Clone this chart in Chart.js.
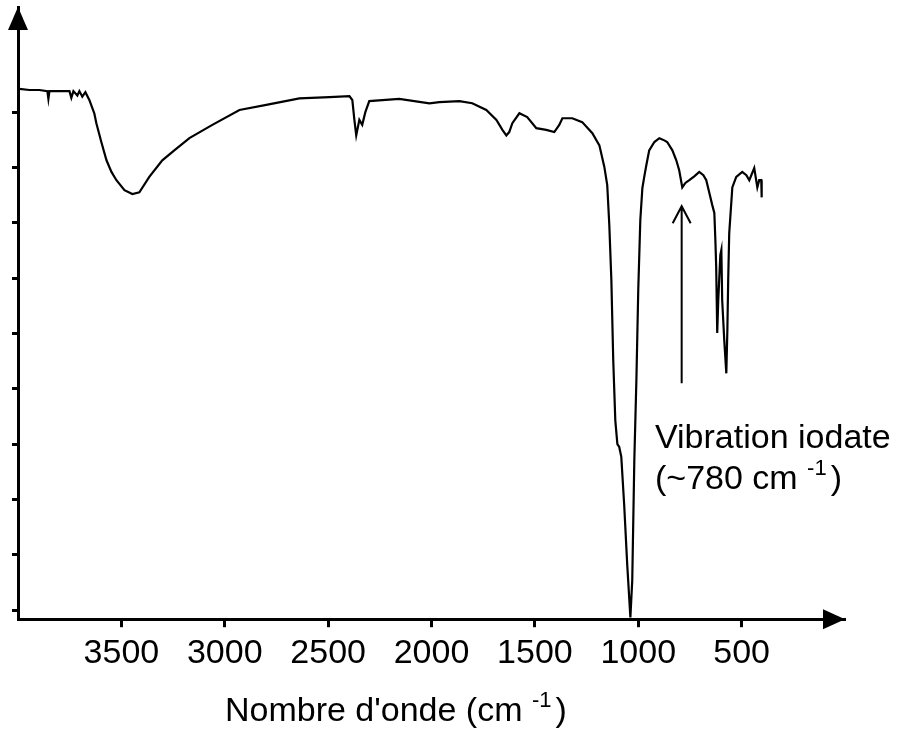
<!DOCTYPE html>
<html>
<head>
<meta charset="utf-8">
<script src="https://cdn.jsdelivr.net/npm/chart.js@4.4.1/dist/chart.umd.min.js"></script>
<style>
  html, body { margin: 0; padding: 0; background: #fff; }
  #wrap { width: 904px; height: 734px; }
</style>
</head>
<body>
<div id="wrap"><canvas id="irChart" width="904" height="734"></canvas></div>
<script>
// IR spectrum (wavenumber in cm-1, transmittance in arbitrary %)
const wavenumbers = [
  3993, 3945, 3897, 3858, 3853, 3848, 3800, 3751, 3742, 3732, 3713, 3703, 3689, 3674, 3655,
  3631, 3621, 3597, 3572, 3548, 3524, 3485, 3447, 3413, 3365, 3302, 3244, 3171, 3060, 2929,
  2799, 2639, 2494, 2397, 2383, 2373, 2364, 2349, 2335, 2320, 2301, 2156, 2010, 1962, 1865,
  1803, 1735, 1686, 1657, 1638, 1624, 1609, 1575, 1537, 1493, 1445, 1406, 1382, 1367, 1319,
  1271, 1222, 1188, 1164, 1150, 1140, 1130, 1121, 1111, 1101, 1092, 1082, 1068, 1053, 1038,
  1029, 1019, 1009, 1000, 990, 980, 971, 961, 947, 922, 898, 874, 860, 835, 816,
  802, 787, 772, 753, 729, 705, 685, 671, 656, 642, 632, 627, 623, 618, 613,
  603, 598, 594, 584, 574, 569, 565, 560, 545, 526, 497, 477, 463, 439, 424,
  415, 405, 403
];
const transmittance = [
  94.2, 94.0, 94.0, 93.8, 92.4, 93.8, 93.8, 93.8, 92.6, 93.8, 93.0, 93.8, 92.8, 93.6, 92.2,
  89.8, 88.0, 84.6, 81.3, 79.2, 77.7, 75.9, 75.2, 75.5, 78.3, 81.3, 83.1, 85.3, 87.7, 90.4,
  91.3, 92.5, 92.7, 92.9, 92.2, 88.6, 85.8, 88.6, 87.7, 90.0, 92.0, 92.4, 91.6, 91.8, 92.0,
  91.6, 90.4, 88.6, 86.8, 85.8, 86.4, 88.0, 89.8, 89.1, 87.1, 86.8, 86.4, 87.7, 88.9, 88.9,
  88.2, 86.2, 84.0, 80.1, 76.8, 69.6, 59.6, 45.2, 34.3, 30.0, 29.5, 27.7, 19.0, 8.0, -1.3,
  5.4, 27.1, 41.6, 57.8, 70.5, 76.3, 78.3, 80.4, 83.1, 84.6, 85.3, 84.9, 84.6, 83.1, 81.3,
  79.5, 76.4, 77.2, 77.7, 78.4, 79.2, 78.6, 77.7, 75.4, 73.2, 71.8, 66.9, 62.0, 50.1, 56.0,
  64.2, 65.1, 56.0, 48.8, 42.8, 50.6, 59.6, 68.1, 76.4, 78.3, 79.2, 78.6, 77.7, 79.9, 76.4,
  77.7, 77.7, 74.6
];

const xTickValues = [3500, 3000, 2500, 2000, 1500, 1000, 500];
const yTickValues = [0, 10, 20, 30, 40, 50, 60, 70, 80, 90];

const xTitle = ["Nombre d'onde (cm", '-1', ')'];
const noteLine1 = 'Vibration iodate';
const noteLine2 = ['(~780 cm', '-1', ')'];
const noteArrow = { x: 790, yFrom: 41, yTo: 73 };

const fontFamily = '"Liberation Sans", Arial, Helvetica, sans-serif';

// text with a raised exponent: [base, superscript, tail]
function drawSupText(ctx, parts, x, y, size) {
  ctx.font = size + 'px ' + fontFamily;
  ctx.fillText(parts[0], x, y);
  x += ctx.measureText(parts[0] + ' ').width;
  ctx.font = Math.round(size * 0.64) + 'px ' + fontFamily;
  ctx.fillText(parts[1], x, y - size * 0.4);
  x += ctx.measureText(parts[1]).width + 4;
  ctx.font = size + 'px ' + fontFamily;
  ctx.fillText(parts[2], x, y);
}

const extrasPlugin = {
  id: 'extras',
  afterDraw(chart) {
    const ctx = chart.ctx;
    const area = chart.chartArea;
    const xs = chart.scales.x;
    const ys = chart.scales.y;
    ctx.save();
    ctx.fillStyle = '#000';
    ctx.strokeStyle = '#000';

    // axis arrow heads
    ctx.beginPath();
    ctx.moveTo(area.left, area.top);
    ctx.lineTo(area.left - 10, area.top + 23);
    ctx.lineTo(area.left + 10, area.top + 23);
    ctx.closePath();
    ctx.fill();

    ctx.beginPath();
    ctx.moveTo(area.right, area.bottom);
    ctx.lineTo(area.right - 22, area.bottom - 10);
    ctx.lineTo(area.right - 22, area.bottom + 10);
    ctx.closePath();
    ctx.fill();

    // annotation arrow
    const ax = xs.getPixelForValue(noteArrow.x);
    const y0 = ys.getPixelForValue(noteArrow.yFrom);
    const y1 = ys.getPixelForValue(noteArrow.yTo);
    ctx.lineWidth = 2;
    ctx.beginPath();
    ctx.moveTo(ax, y0);
    ctx.lineTo(ax, y1);
    ctx.moveTo(ax - 9, y1 + 17);
    ctx.lineTo(ax, y1);
    ctx.lineTo(ax + 9, y1 + 17);
    ctx.stroke();

    ctx.textBaseline = 'alphabetic';
    ctx.textAlign = 'left';
    ctx.font = '34px ' + fontFamily;
    ctx.fillText(noteLine1, 655, 448);
    drawSupText(ctx, noteLine2, 655, 489, 34);

    drawSupText(ctx, xTitle, 225, 721, 34);
    ctx.restore();
  }
};

const points = wavenumbers.map((w, i) => ({ x: w, y: transmittance[i] }));

new Chart(document.getElementById('irChart'), {
  type: 'line',
  data: {
    datasets: [{
      data: points,
      borderColor: '#000',
      borderWidth: 2.2,
      pointRadius: 0,
      tension: 0,
      fill: false
    }]
  },
  options: {
    responsive: false,
    animation: false,
    layout: { padding: { left: 12, right: 59, top: 7, bottom: 54 } },
    plugins: {
      legend: { display: false },
      tooltip: { enabled: false }
    },
    scales: {
      x: {
        type: 'linear',
        reverse: true,
        min: 0,
        max: 4000,
        afterBuildTicks: scale => { scale.ticks = xTickValues.map(v => ({ value: v })); },
        ticks: {
          autoSkip: false,
          maxRotation: 0,
          padding: 6,
          color: '#000',
          font: { size: 34, family: fontFamily },
          callback: v => String(v)
        },
        grid: {
          drawOnChartArea: false,
          drawTicks: true,
          tickLength: 8,
          tickWidth: 3,
          tickColor: '#000'
        },
        border: { display: true, color: '#000', width: 3 }
      },
      y: {
        type: 'linear',
        min: -1.63,
        max: 109,
        afterBuildTicks: scale => { scale.ticks = yTickValues.map(v => ({ value: v })); },
        ticks: { display: false },
        grid: {
          drawOnChartArea: false,
          drawTicks: true,
          tickLength: 6,
          tickWidth: 3,
          tickColor: '#000'
        },
        border: { display: true, color: '#000', width: 3 }
      }
    }
  },
  plugins: [extrasPlugin]
});
</script>
</body>
</html>
